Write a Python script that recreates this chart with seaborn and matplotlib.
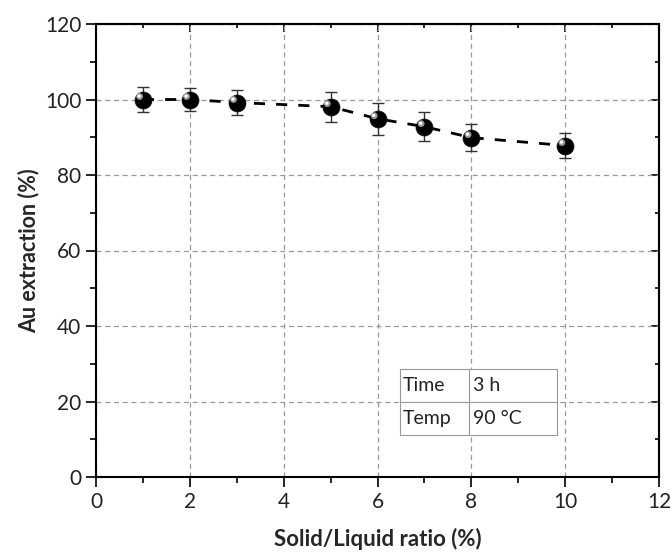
import matplotlib
matplotlib.use("Agg")
import matplotlib.pyplot as plt
import seaborn as sns
import numpy as np
import pandas as pd
from matplotlib.ticker import MultipleLocator

ratio = [1, 2, 3, 5, 6, 7, 8, 10]
extraction = [100.0, 100.0, 99.2, 98.1, 94.9, 92.8, 89.9, 87.8]
err = [3.4, 3.0, 3.3, 4.0, 4.2, 3.9, 3.6, 3.2]
table_rows = [["Time", "3 h"], ["Temp", "90 °C"]]

df = pd.DataFrame({"ratio": ratio, "extraction": extraction, "err": err})

sns.set_style("white")
plt.rcParams["font.family"] = ["Lato", "DejaVu Sans"]

fig = plt.figure(figsize=(6.71, 5.57), dpi=100)
ax = fig.add_axes([96/671, 80/557, 563/671, 453/557])

sns.lineplot(data=df, x="ratio", y="extraction", ax=ax, color="black",
             linestyle=(0, (4, 4)), linewidth=2, zorder=3)
ax.errorbar(df["ratio"], df["extraction"], yerr=df["err"], fmt="none",
            ecolor="#333333", elinewidth=1, capsize=4, capthick=1, zorder=4)
sns.scatterplot(data=df, x="ratio", y="extraction", ax=ax, s=150,
                color="black", edgecolor="#111111", linewidth=0.5, zorder=5)
# sphere highlight
ax.scatter(df["ratio"] - 0.07, df["extraction"] + 0.8, s=24, color="#aaaaaa",
           edgecolors="none", zorder=6, alpha=0.9)
ax.scatter(df["ratio"] - 0.08, df["extraction"] + 0.9, s=6, color="white",
           edgecolors="none", zorder=7)

ax.set_xlim(0, 12)
ax.set_ylim(0, 120)
ax.xaxis.set_major_locator(MultipleLocator(2))
ax.xaxis.set_minor_locator(MultipleLocator(1))
ax.yaxis.set_major_locator(MultipleLocator(20))
ax.yaxis.set_minor_locator(MultipleLocator(10))
ax.grid(True, which="major", color="#999999", linestyle=(0, (4, 3)), linewidth=0.9)
ax.set_axisbelow(True)

for s in ax.spines.values():
    s.set_color("black")
    s.set_linewidth(1.5)

ax.tick_params(which="both", direction="out", color="black", width=1.2,
               labelsize=15, labelcolor="#222222", bottom=True, left=True)
ax.tick_params(which="major", length=7)
ax.tick_params(which="minor", length=4)

# inward ticks on top and right
secx = ax.secondary_xaxis("top")
secx.xaxis.set_major_locator(MultipleLocator(2))
secx.xaxis.set_minor_locator(MultipleLocator(1))
secx.tick_params(which="both", direction="in", labeltop=False, width=1.2, color="black")
secx.tick_params(which="major", length=6)
secx.tick_params(which="minor", length=3)
secx.spines["top"].set_linewidth(1.5)
secy = ax.secondary_yaxis("right")
secy.yaxis.set_major_locator(MultipleLocator(20))
secy.yaxis.set_minor_locator(MultipleLocator(10))
secy.tick_params(which="both", direction="in", labelright=False, width=1.2, color="black")
secy.tick_params(which="major", length=6)
secy.tick_params(which="minor", length=3)
secy.spines["right"].set_linewidth(1.5)

ax.set_xlabel("Solid/Liquid ratio (%)", fontsize=16, fontweight="bold")
ax.xaxis.set_label_coords(0.5, (477 - 528) / 453)
ax.set_ylabel("Au extraction (%)", fontsize=15.5, fontweight="bold", labelpad=4)

tab = ax.table(cellText=table_rows, cellLoc="left",
               bbox=[(400-96)/563, (477-435)/453, (557-400)/563, (435-369)/453],
               colWidths=[69, 88])
tab.auto_set_font_size(False)
tab.set_fontsize(14)
for (r, c), cell in tab.get_celld().items():
    cell.set_edgecolor("#999999")
    cell.set_linewidth(0.8)
    cell.set_facecolor("white")
    cell.PAD = 0.04
    cell.get_text().set_color("#222222")
tab.set_zorder(8)

fig.savefig("out.png", dpi=100)
